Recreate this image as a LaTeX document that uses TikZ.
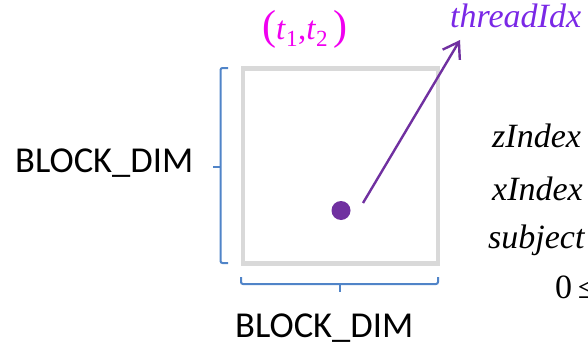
\documentclass[tikz,border=0pt]{standalone}
\usepackage{fontspec}
\usetikzlibrary{arrows.meta}
\newfontfamily\tnr{Liberation Serif}
\newfontfamily\calib{Carlito}
\definecolor{sqgray}{RGB}{217,217,217}
\definecolor{dotpurple}{RGB}{112,48,160}
\definecolor{bracblue}{RGB}{80,132,200}
\definecolor{tidviolet}{RGB}{122,40,230}
\definecolor{tmag}{RGB}{240,0,240}
\tikzset{
  lbl/.style={inner sep=0, anchor=base west},
  dimlbl/.style={lbl, font=\calib\fontsize{36.5}{36.5}\selectfont},
  mathlbl/.style={lbl, font=\tnr\itshape\fontsize{34}{34}\selectfont},
  bracepath/.style={draw=bracblue, line width=2, rounded corners=2},
  arrowline/.style={draw=dotpurple, line width=2.4, -{Straight Barb[length=15pt,width=20pt]}}
}
\begin{document}
\begin{tikzpicture}[x=1pt,y=-1pt]
\useasboundingbox (0,0) rectangle (588,345);
\clip (0,0) rectangle (588,345);
% block
\node[draw=sqgray, line width=4.5, minimum size=195pt, inner sep=0] (blk) at (340.5,165.75) {};
\node[circle, fill=dotpurple, minimum size=19pt, inner sep=0] (dot) at (341,210.5) {};
% arrow
\coordinate (as) at (363,203);
\coordinate (ae) at (460,40);
\draw[arrowline] (as) -- (ae);
% braces
\draw[bracepath] (228,68) -- (220.5,68) -- (220.5,263) -- (228,263);
\draw[bracepath] (220.5,167) -- (213,167);
\draw[bracepath] (241,277) -- (241,284) -- (438,284) -- (438,277);
\draw[bracepath] (339.5,284) -- (339.5,292);
% labels
\node[dimlbl] (bdl) at (15,172) {BLOCK\_DIM};
\node[dimlbl] (bdb) at (235,337) {BLOCK\_DIM};
\node[mathlbl, text=tidviolet] (tid) at (450,28) {threadIdx};
\node[lbl, text=tmag] (tt) at (262,40) {\tnr\fontsize{42}{42}\selectfont(\fontsize{33}{33}\selectfont\textit{t}\textsubscript{1},\textit{t}\textsubscript{2}\,\fontsize{42}{42}\selectfont)};
\node[mathlbl] (zi) at (492,147) {zIndex};
\node[mathlbl] (xi) at (492,200) {xIndex};
\node[mathlbl] (su) at (488,248) {subject};
\node[lbl, font=\tnr\fontsize{34}{34}\selectfont] (le) at (555,298) {0\,≤};
\end{tikzpicture}
\end{document}
